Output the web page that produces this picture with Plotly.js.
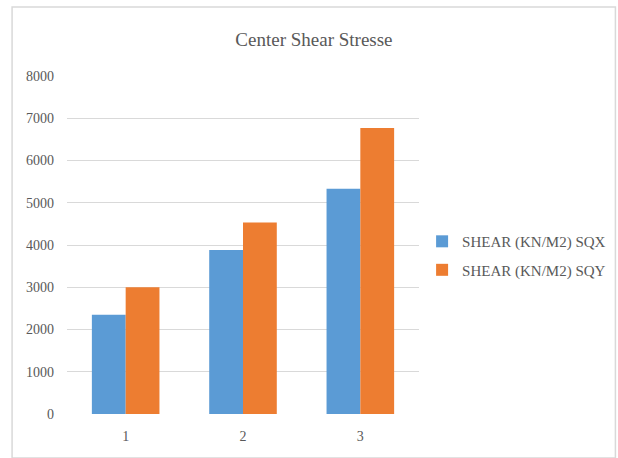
<!DOCTYPE html>
<html>
<head>
<meta charset="utf-8">
<script src="https://cdn.plot.ly/plotly-3.0.1.min.js"></script>
<style>html,body{margin:0;padding:0;background:#fff;}</style>
</head>
<body>
<div id="chart" style="width:618px;height:458px;"></div>
<script>
const categories = ["1", "2", "3"];
const seriesNames = ["SHEAR (KN/M2) SQX", "SHEAR (KN/M2) SQY"];
const sqx = [2350, 3880, 5330];
const sqy = [3000, 4530, 6770];
const yTicks = [0, 1000, 2000, 3000, 4000, 5000, 6000, 7000, 8000];

const font = {family: "Liberation Serif, Times New Roman, serif", color: "#595959", size: 14};
const legendFont = {family: font.family, color: "#595959", size: 15};

const data = [
  {type: "bar", x: categories, y: sqx, name: seriesNames[0], legendgroup: "a", marker: {color: "#5B9BD5"}},
  {type: "bar", x: categories, y: sqy, name: seriesNames[1], legendgroup: "b", marker: {color: "#ED7D31"}}
];

const layout = {
  width: 618, height: 458,
  margin: {l: 67, r: 199, t: 76, b: 44, autoexpand: false},
  paper_bgcolor: "#fff", plot_bgcolor: "#fff",
  font: font,
  title: {text: "Center Shear Stresse", x: 0.508, xanchor: "center", y: 0.913, yanchor: "middle",
          font: {family: font.family, color: "#595959", size: 19}},
  barmode: "group", bargap: 0.424, bargroupgap: 0,
  xaxis: {type: "category", showgrid: false, zeroline: false, showline: false, ticks: "",
          tickfont: font, ticklabelstandoff: 12, fixedrange: true},
  yaxis: {range: [0, 8000], tickvals: yTicks, showgrid: true, gridcolor: "#d9d9d9", gridwidth: 1,
          zeroline: false, showline: false, ticks: "", ticklabelstandoff: 12, tickfont: font},
  showlegend: true,
  legend: {xref: "container", yref: "container", x: 0.683, y: 0.442, xanchor: "left", yanchor: "middle",
           font: legendFont, traceorder: "grouped", tracegroupgap: 6, itemwidth: 30, bgcolor: "rgba(0,0,0,0)"},
  shapes: [
    {type: "rect", xref: "paper", yref: "paper", x0: -0.156, x1: 1.558, y0: -0.13, y1: 1.204,
     line: {color: "#d9d9d9", width: 1.5}, fillcolor: "rgba(0,0,0,0)", layer: "below"}
  ]
};

Plotly.newPlot("chart", data, layout, {displayModeBar: false, staticPlot: true});
</script>
</body>
</html>
